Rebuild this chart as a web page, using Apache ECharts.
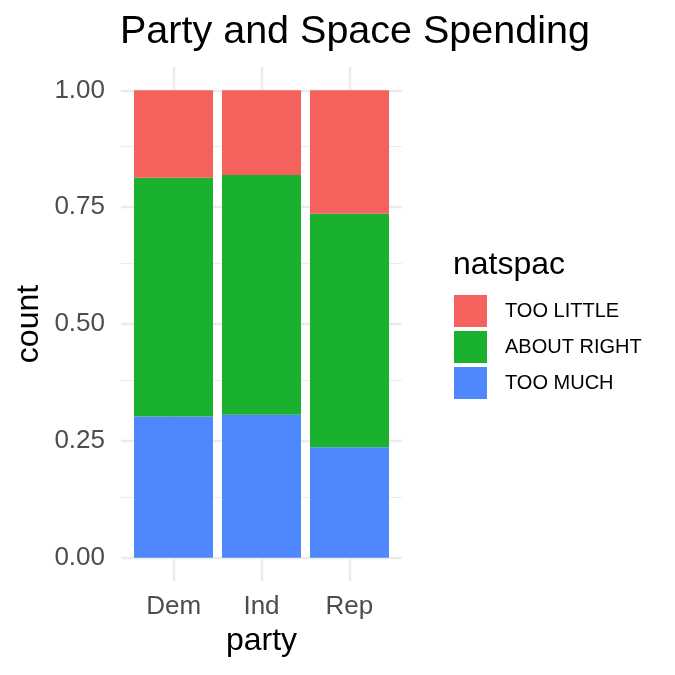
<!DOCTYPE html>
<html>
<head>
<meta charset="utf-8">
<script src="https://cdn.jsdelivr.net/npm/echarts@6/dist/echarts.min.js"></script>
<style>
  html, body { margin: 0; padding: 0; background: #fff; }
  #chart { width: 675px; height: 675px; }
</style>
</head>
<body>
<div id="chart"></div>
<script>
// 数据
var categories = ['Dem', 'Ind', 'Rep'];
var tooMuch = [0.302, 0.306, 0.236];
var aboutRight = [0.511, 0.513, 0.500];
var tooLittle = [0.187, 0.181, 0.264];
var yMajorTicks = [0, 0.25, 0.5, 0.75, 1];
var yMinorTicks = [0.125, 0.375, 0.625, 0.875];
var xTicks = [1, 2, 3];

var font = "'Liberation Sans', Arial, Helvetica, sans-serif";
var gridColor = '#EBEBEB';

// 网格线 (放在底层 grid 上)
var gridLines = [];
yMajorTicks.forEach(function (v) {
    gridLines.push({ yAxis: v, lineStyle: { width: 2.4 } });
});
yMinorTicks.forEach(function (v) {
    gridLines.push({ yAxis: v, lineStyle: { width: 1.2 } });
});
xTicks.forEach(function (v) {
    gridLines.push({ xAxis: v, lineStyle: { width: 2.4 } });
});

var dom = document.getElementById('chart');
var myChart = echarts.init(dom);
var option = {
    animation: false,
    textStyle: { fontFamily: font },
    title: [
        {
            text: 'Party and Space Spending',
            left: 120, top: 12, padding: 0,
            textStyle: { fontFamily: font, fontSize: 39.5, fontWeight: 'normal', color: '#000' }
        },
        {
            text: 'natspac',
            left: 453, top: 249, padding: 0,
            textStyle: { fontFamily: font, fontSize: 32, fontWeight: 'normal', color: '#000' }
        }
    ],
    legend: {
        data: ['TOO LITTLE', 'ABOUT RIGHT', 'TOO MUCH'],
        orient: 'vertical',
        left: 454, top: 295,
        padding: 0,
        icon: 'rect',
        itemWidth: 33, itemHeight: 32, itemGap: 4,
        itemStyle: { borderWidth: 0 },
        textStyle: { fontFamily: font, fontSize: 20, color: '#000', padding: [0, 0, 0, 13] }
    },
    // grid 0: 面板 (含 ggplot 的扩展), grid 1: 柱子
    grid: [
        { left: 121, right: 273, top: 67, bottom: 94 },
        { left: 129.5, right: 281.5, top: 67, bottom: 94 }
    ],
    xAxis: [
        {
            gridIndex: 0,
            type: 'value',
            min: 0.4, max: 3.6, interval: 0.2,
            name: 'party',
            nameLocation: 'middle',
            nameGap: 44,
            nameTextStyle: { fontFamily: font, fontSize: 32, color: '#000' },
            axisLine: { show: false, onZero: false },
            axisTick: { show: false },
            splitLine: { show: false },
            axisLabel: {
                margin: 13,
                fontFamily: font, fontSize: 26, color: '#4D4D4D',
                formatter: function (v) {
                    var r = Math.round(v);
                    if (Math.abs(v - r) < 1e-6 && r >= 1 && r <= categories.length) {
                        return categories[r - 1];
                    }
                    return '';
                }
            }
        },
        {
            gridIndex: 1,
            type: 'category',
            data: categories,
            show: false
        }
    ],
    yAxis: [
        {
            gridIndex: 0,
            type: 'value',
            min: -0.05, max: 1.05, interval: 0.05,
            name: 'count',
            nameLocation: 'middle',
            nameGap: 76,
            nameTextStyle: { fontFamily: font, fontSize: 32, color: '#000' },
            axisLine: { show: false, onZero: false },
            axisTick: { show: false },
            splitLine: { show: false },
            axisLabel: {
                margin: 16,
                fontFamily: font, fontSize: 26, color: '#4D4D4D',
                formatter: function (v) {
                    var q = v / 0.25;
                    if (Math.abs(q - Math.round(q)) < 1e-6 && v > -0.01) {
                        return Math.abs(v).toFixed(2);
                    }
                    return '';
                }
            }
        },
        {
            gridIndex: 1,
            type: 'value',
            min: -0.05, max: 1.05,
            show: false,
            splitLine: { show: false }
        }
    ],
    series: [
        {
            // 网格线
            name: 'grid',
            type: 'line',
            xAxisIndex: 0, yAxisIndex: 0,
            data: [],
            silent: true,
            markLine: {
                silent: true,
                symbol: ['none', 'none'],
                label: { show: false },
                animation: false,
                lineStyle: { color: gridColor, type: 'solid' },
                data: gridLines
            }
        },
        {
            name: 'TOO MUCH',
            type: 'bar',
            stack: 'total',
            xAxisIndex: 1, yAxisIndex: 1,
            barWidth: 79,
            z: 10,
            itemStyle: { color: '#4F87FF' },
            data: tooMuch
        },
        {
            name: 'ABOUT RIGHT',
            type: 'bar',
            stack: 'total',
            xAxisIndex: 1, yAxisIndex: 1,
            barWidth: 79,
            z: 10,
            itemStyle: { color: '#1AB12F' },
            data: aboutRight
        },
        {
            name: 'TOO LITTLE',
            type: 'bar',
            stack: 'total',
            xAxisIndex: 1, yAxisIndex: 1,
            barWidth: 79,
            z: 10,
            itemStyle: { color: '#F5625D' },
            data: tooLittle
        }
    ]
};
myChart.setOption(option, true);
</script>
</body>
</html>
